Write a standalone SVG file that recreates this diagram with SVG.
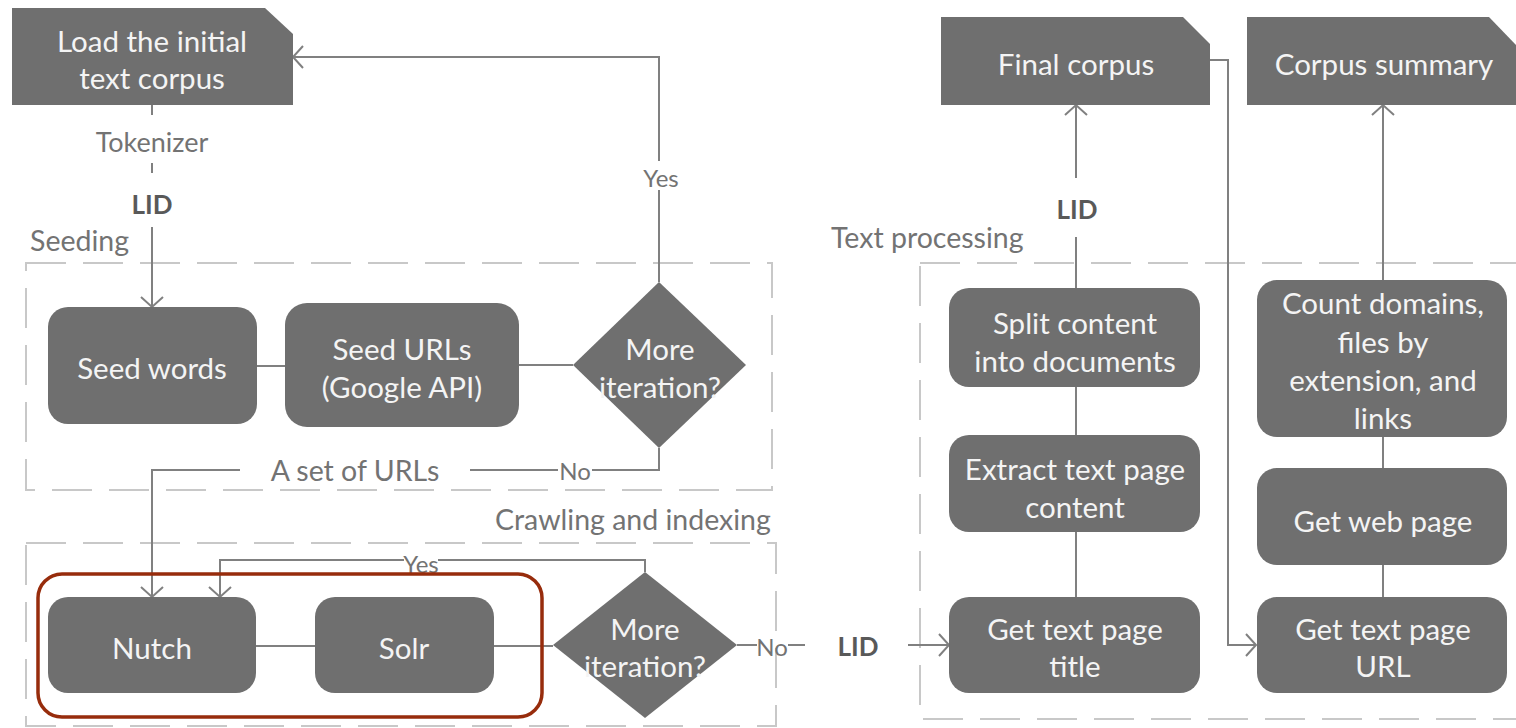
<svg xmlns="http://www.w3.org/2000/svg" width="1516" height="728" viewBox="0 0 1516 728">
  <style>
    .node { fill: #6f6f6f; }
    .ntext { fill: #f4f4f4; font-family: Lato, "Liberation Sans", sans-serif; font-size: 29.5px; text-anchor: middle; dominant-baseline: central; }
    .label { fill: #737373; font-family: Lato, "Liberation Sans", sans-serif; font-size: 28.5px; dominant-baseline: central; }
    .small { fill: #737373; font-family: Lato, "Liberation Sans", sans-serif; font-size: 24px; text-anchor: middle; dominant-baseline: central; }
    .lid { fill: #595959; font-family: Lato, "Liberation Sans", sans-serif; font-size: 26px; font-weight: bold; text-anchor: middle; dominant-baseline: central; }
    .wire { fill: none; stroke: #808080; stroke-width: 2; }
    .group { fill: none; stroke: #c8c8c8; stroke-width: 2; stroke-dasharray: 40 17; }
  </style>
  <defs>
    <marker id="arrow" viewBox="-12 -13 14 26" markerWidth="14" markerHeight="26" refX="0" refY="0" orient="auto" markerUnits="userSpaceOnUse">
      <path d="M-10,-11 L0,0 L-10,11" fill="none" stroke="#808080" stroke-width="2"/>
    </marker>
  </defs>

  <rect width="1516" height="728" fill="#ffffff"/>

  <!-- stage groupings -->
  <g id="groups">
    <rect class="group" x="26" y="263" width="746" height="227"/>
    <rect class="group" x="26" y="543" width="750" height="183"/>
    <rect class="group" x="920" y="263" width="620" height="456"/>
    <text class="label" x="30" y="240">Seeding</text>
    <text class="label" x="495" y="519">Crawling and indexing</text>
    <text class="label" x="831" y="237">Text processing</text>
  </g>

  <!-- connectors -->
  <g id="connectors">
    <!-- corpus -> seed words -->
    <path class="wire" d="M152,105 V115"/>
    <path class="wire" d="M152,163 V173"/>
    <path class="wire" d="M152,227 V307" marker-end="url(#arrow)"/>
    <text class="small" x="152" y="141" style="font-size:27px">Tokenizer</text>
    <text class="lid" x="152" y="204">LID</text>
    <!-- seed words -> seed urls -> decision -->
    <path class="wire" d="M257,366 H285"/>
    <path class="wire" d="M519,365 H573"/>
    <!-- yes loop back to corpus -->
    <path class="wire" d="M659,282 V190"/>
    <path class="wire" d="M659,161 V57 H293" marker-end="url(#arrow)"/>
    <text class="small" x="661" y="177">Yes</text>
    <!-- no -> set of urls -> nutch -->
    <path class="wire" d="M659,448 V470 H592"/>
    <text class="small" x="575" y="470">No</text>
    <path class="wire" d="M558,470 H470"/>
    <text class="label" x="355" y="470" text-anchor="middle">A set of URLs</text>
    <path class="wire" d="M240,470 H152 V597" marker-end="url(#arrow)"/>
    <!-- nutch -> solr -> decision -->
    <path class="wire" d="M256,646 H315"/>
    <path class="wire" d="M494,646 H553"/>
    <!-- yes loop back to nutch -->
    <path class="wire" d="M645,572 V560 H438"/>
    <text class="small" x="421" y="563">Yes</text>
    <path class="wire" d="M404,560 H220 V597" marker-end="url(#arrow)"/>
    <!-- no -> LID -> text processing -->
    <path class="wire" d="M737,645 H757"/>
    <text class="small" x="772" y="646">No</text>
    <path class="wire" d="M788,645 H805"/>
    <text class="lid" x="858" y="646">LID</text>
    <path class="wire" d="M908,645 H949" marker-end="url(#arrow)"/>
    <!-- left column -->
    <path class="wire" d="M1076,597 V532"/>
    <path class="wire" d="M1076,435 V387"/>
    <path class="wire" d="M1076,288 V237"/>
    <path class="wire" d="M1076,178 V105" marker-end="url(#arrow)"/>
    <text class="lid" x="1077" y="209">LID</text>
    <!-- final corpus -> get url -->
    <path class="wire" d="M1210,60 H1228 V645 H1256" marker-end="url(#arrow)"/>
    <!-- right column -->
    <path class="wire" d="M1383,597 V565"/>
    <path class="wire" d="M1383,468 V437"/>
    <path class="wire" d="M1383,280 V105" marker-end="url(#arrow)"/>
  </g>

  <!-- nodes -->
  <g id="load-corpus">
    <polygon class="node" points="12,8 265,8 293,34 293,105 12,105"/>
    <text class="ntext" x="152" y="40">Load the initial</text>
    <text class="ntext" x="152" y="77">text corpus</text>
  </g>
  <g id="seed-words">
    <rect class="node" x="48" y="307" width="209" height="117" rx="20"/>
    <text class="ntext" x="152" y="367">Seed words</text>
  </g>
  <g id="seed-urls">
    <rect class="node" x="285" y="303" width="234" height="124" rx="22"/>
    <text class="ntext" x="402" y="348">Seed URLs</text>
    <text class="ntext" x="402" y="386">(Google API)</text>
  </g>
  <g id="decision-seeding">
    <polygon class="node" points="659,282 746,365 659,448 573,365"/>
    <text class="ntext" x="660" y="348">More</text>
    <text class="ntext" x="660" y="386">iteration?</text>
  </g>
  <g id="nutch">
    <rect class="node" x="48" y="597" width="208" height="96" rx="20"/>
    <text class="ntext" x="152" y="647">Nutch</text>
  </g>
  <g id="solr">
    <rect class="node" x="315" y="597" width="179" height="96" rx="20"/>
    <text class="ntext" x="404" y="647">Solr</text>
  </g>
  <g id="decision-crawl">
    <polygon class="node" points="645,572 737,645 645,718 553,645"/>
    <text class="ntext" x="645" y="628">More</text>
    <text class="ntext" x="645" y="665">iteration?</text>
  </g>
  <g id="crawl-highlight">
    <rect x="38" y="574" width="504" height="143" rx="24" fill="none" stroke="#972c0c" stroke-width="3.5"/>
  </g>
  <g id="final-corpus">
    <polygon class="node" points="941,17 1183,17 1210,44 1210,105 941,105"/>
    <text class="ntext" x="1076" y="63">Final corpus</text>
  </g>
  <g id="corpus-summary">
    <polygon class="node" points="1247,17 1489,17 1516,45 1516,105 1247,105"/>
    <text class="ntext" x="1384" y="63">Corpus summary</text>
  </g>
  <g id="split-content">
    <rect class="node" x="949" y="288" width="251" height="99" rx="20"/>
    <text class="ntext" x="1075" y="322">Split content</text>
    <text class="ntext" x="1075" y="360">into documents</text>
  </g>
  <g id="extract-content">
    <rect class="node" x="949" y="435" width="251" height="97" rx="20"/>
    <text class="ntext" x="1075" y="468">Extract text page</text>
    <text class="ntext" x="1075" y="506">content</text>
  </g>
  <g id="get-title">
    <rect class="node" x="949" y="597" width="251" height="96" rx="20"/>
    <text class="ntext" x="1075" y="628">Get text page</text>
    <text class="ntext" x="1075" y="665">title</text>
  </g>
  <g id="count-domains">
    <rect class="node" x="1257" y="280" width="250" height="157" rx="20"/>
    <text class="ntext" x="1383" y="302">Count domains,</text>
    <text class="ntext" x="1383" y="341">files by</text>
    <text class="ntext" x="1383" y="379">extension, and</text>
    <text class="ntext" x="1383" y="417">links</text>
  </g>
  <g id="get-web-page">
    <rect class="node" x="1257" y="468" width="250" height="97" rx="20"/>
    <text class="ntext" x="1383" y="520">Get web page</text>
  </g>
  <g id="get-url">
    <rect class="node" x="1257" y="597" width="250" height="96" rx="20"/>
    <text class="ntext" x="1383" y="628">Get text page</text>
    <text class="ntext" x="1383" y="665">URL</text>
  </g>
</svg>
